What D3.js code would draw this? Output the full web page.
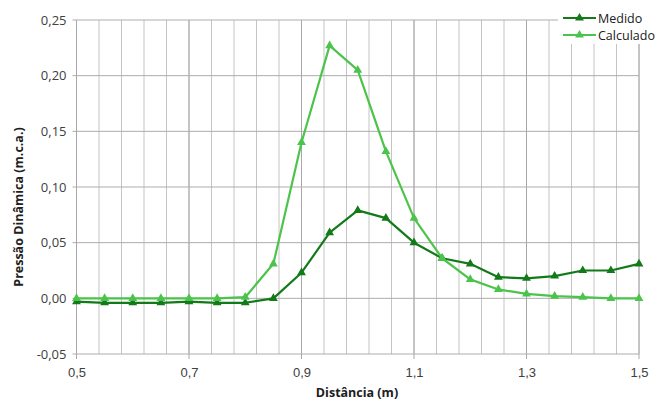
<!DOCTYPE html>
<html><head><meta charset="utf-8">
<script src="https://cdn.jsdelivr.net/npm/d3@7"></script>
<style>body{margin:0;background:#fff}svg{display:block;font-family:"Open Sans","Noto Sans",sans-serif}</style>
</head><body><svg id="c" width="661" height="401"></svg>
<script>
const distances = [0.5,0.55,0.6,0.65,0.7,0.75,0.8,0.85,0.9,0.95,1.0,1.05,1.1,1.15,1.2,1.25,1.3,1.35,1.4,1.45,1.5];
const medido = [-0.003,-0.004,-0.004,-0.004,-0.003,-0.004,-0.004,0.000,0.023,0.059,0.079,0.072,0.050,0.036,0.031,0.019,0.018,0.020,0.025,0.025,0.031];
const calculado = [0.000,0.000,0.000,0.000,0.000,0.000,0.001,0.031,0.140,0.227,0.205,0.132,0.072,0.036,0.017,0.008,0.004,0.002,0.001,0.000,0.000];
const xTicks = [0.5,0.7,0.9,1.1,1.3,1.5];
const xMinorTicks = d3.range(0,26).map(i => +(0.5 + i*0.04).toFixed(2));
const yTicks = [-0.05,0,0.05,0.10,0.15,0.20,0.25];
const seriesNames = ["Medido","Calculado"];
const colors = ["#137a1a","#4cc44c"];

const svg = d3.select("#c");
const x = d3.scaleLinear().domain([0.5,1.5]).range([76.5,639]);
const y = d3.scaleLinear().domain([-0.05,0.25]).range([354,20]);
const fmt = d => d.toFixed(2).replace(".",",").replace("-0,00","0,00");

// minor vertical grid
svg.append("g").selectAll("line").data(xMinorTicks).join("line")
  .attr("x1",d=>x(d)).attr("x2",d=>x(d)).attr("y1",y(0.25)).attr("y2",y(-0.05))
  .attr("stroke","#c4c4c4").attr("stroke-width",1);
// major vertical grid
svg.append("g").selectAll("line").data(xTicks).join("line")
  .attr("x1",d=>x(d)).attr("x2",d=>x(d)).attr("y1",y(0.25)).attr("y2",y(-0.05)+5)
  .attr("stroke","#a8a8a8").attr("stroke-width",1);
// horizontal grid
svg.append("g").selectAll("line").data(yTicks).join("line")
  .attr("x1",x(0.5)-4).attr("x2",x(1.5)).attr("y1",d=>y(d)).attr("y2",d=>y(d))
  .attr("stroke","#adadad").attr("stroke-width",1);

// axis labels
const yAxis = d3.axisLeft(y).tickValues(yTicks).tickFormat(fmt).tickSize(0).tickPadding(10);
const gy = svg.append("g").attr("transform",`translate(${x(0.5)},0)`).call(yAxis);
gy.select(".domain").remove();
gy.selectAll("text").attr("font-size",13).attr("fill","#404040").attr("font-family","'Open Sans',sans-serif");
const xAxis = d3.axisBottom(x).tickValues(xTicks).tickFormat(d=>d.toFixed(1).replace(".",",")).tickSize(0).tickPadding(14);
const gx = svg.append("g").attr("transform",`translate(0,${y(-0.05)})`).call(xAxis);
gx.select(".domain").remove();
gx.selectAll("text").attr("font-size",13).attr("fill","#404040");

// series
const line = d3.line().x((d,i)=>x(distances[i])).y(d=>y(d));
const tri = d3.symbol().type(d3.symbolTriangle).size(34);
[medido,calculado].forEach((vals,k)=>{
  const g = svg.append("g");
  g.append("path").datum(vals).attr("d",line).attr("fill","none")
    .attr("stroke",colors[k]).attr("stroke-width",2.2).attr("stroke-linejoin","round");
  g.selectAll("path.m").data(vals).join("path").attr("class","m")
    .attr("d",tri).attr("transform",(d,i)=>`translate(${x(distances[i])},${y(d)})`)
    .attr("fill",colors[k]);
});

// legend
const lg = svg.append("g");
lg.append("rect").attr("x",558).attr("y",0).attr("width",103).attr("height",44).attr("fill","#fff");
seriesNames.forEach((n,k)=>{
  const yy = 18 + k*17;
  lg.append("line").attr("x1",563).attr("x2",596).attr("y1",yy).attr("y2",yy)
    .attr("stroke",colors[k]).attr("stroke-width",2.2);
  lg.append("path").attr("d",tri).attr("transform",`translate(579.5,${yy})`).attr("fill",colors[k]);
  lg.append("text").attr("x",598).attr("y",yy+4.5).attr("font-size",12.5).attr("fill","#202020").text(n);
});

// axis titles
svg.append("text").attr("x",357).attr("y",397).attr("text-anchor","middle")
  .attr("font-size",12.5).attr("font-weight","bold").attr("fill","#202020").text("Distância  (m)");
svg.append("text").attr("transform","translate(23,207) rotate(-90)").attr("text-anchor","middle")
  .attr("font-size",12.5).attr("font-weight","bold").attr("fill","#202020").text("Pressão  Dinâmica  (m.c.a.)");
</script></body></html>
